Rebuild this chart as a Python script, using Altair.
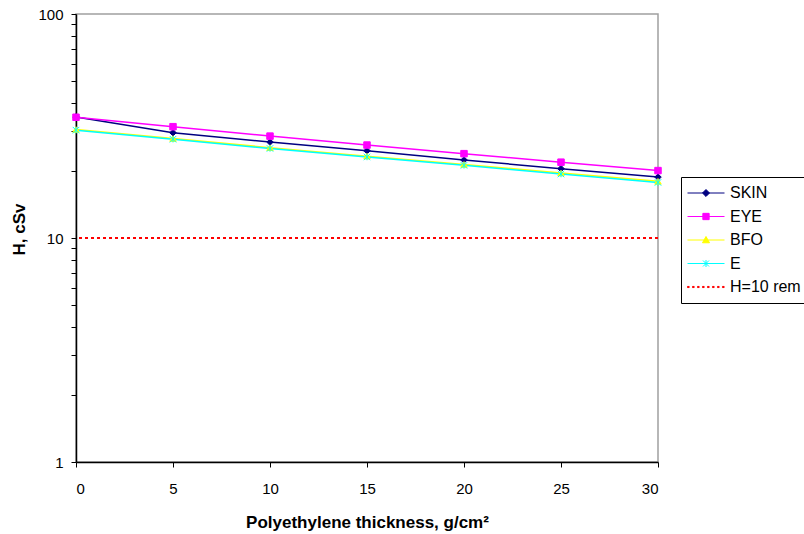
import altair as alt
import pandas as pd

# ---- data ----
thickness = [0, 5, 10, 15, 20, 25, 30]
skin = [34.7, 29.5, 26.8, 24.5, 22.3, 20.4, 18.7]
eye = [34.6, 31.4, 28.5, 26.0, 23.8, 21.8, 20.0]
bfo = [30.5, 27.8, 25.3, 23.2, 21.3, 19.5, 17.9]
e_vals = [30.3, 27.6, 25.1, 23.0, 21.1, 19.3, 17.7]
limit_value = 10

series_names = ["SKIN", "EYE", "BFO", "E"]
limit_name = "H=10 rem"
legend_names = series_names + [limit_name]
legend_colors = ["#000080", "#FF00FF", "#FFFF00", "#00FFFF", "#FF0000"]

x_ticks = [0, 5, 10, 15, 20, 25, 30]
y_ticks = [1, 2, 3, 4, 5, 6, 7, 8, 9, 10, 20, 30, 40, 50, 60, 70, 80, 90, 100]

# ---- tables ----
rows = []
for name, vals in zip(series_names, [skin, eye, bfo, e_vals]):
    for t, v in zip(thickness, vals):
        rows.append({"series": name, "t": t, "H": v})
df = pd.DataFrame(rows)
limit_df = pd.DataFrame({"series": [limit_name], "H": [limit_value]})
legend_df = pd.DataFrame({"series": legend_names, "t": [0] * 5, "H": [0.5] * 5})

# marker shapes
asterisk = "M-1,-1L1,1M-1,1L1,-1M0,-1L0,1"
point_shapes = ["diamond", "square", "triangle-up", asterisk]

dots = "".join(f"M{-1 + i * 0.27:.3f},-0.03h0.09v0.06h-0.09Z" for i in range(8))
legend_paths = [
    "M-1,0H1M0,-0.19L0.19,0L0,0.19L-0.19,0Z",
    "M-1,0H1M-0.17,-0.17H0.17V0.17H-0.17Z",
    "M-1,0H1M0,-0.19L0.19,0.15L-0.19,0.15Z",
    "M-1,0H1M-0.16,-0.16L0.16,0.16M-0.16,0.16L0.16,-0.16M0,-0.19V0.19",
    dots,
]

x_scale = alt.Scale(domain=[0, 30], nice=False, zero=False)
y_scale = alt.Scale(type="log", domain=[1, 100], nice=False)

x_enc = alt.X(
    "t:Q",
    scale=x_scale,
    axis=alt.Axis(
        values=x_ticks,
        title="Polyethylene thickness, g/cm²",
        titleFontSize=17,
        titleFontWeight="bold",
        titleY=60,
        titleBaseline="middle",
        labelPadding=14,
    ),
)
y_enc = alt.Y(
    "H:Q",
    scale=y_scale,
    axis=alt.Axis(
        values=y_ticks,
        labelExpr="(datum.value == 1 || datum.value == 10 || datum.value == 100) ? format(datum.value, 'd') : ''",
        title="H, cSv",
        titleFontSize=17,
        titleFontWeight="bold",
        titleX=-57,
        titleY=215,
        titleAngle=270,
        titleBaseline="middle",
        labelPadding=8,
    ),
)

limit_rule = alt.Chart(limit_df).mark_rule(
    color=legend_colors[4], strokeWidth=2, strokeDash=[3, 3]
).encode(y=alt.Y("H:Q", scale=y_scale))

line_layers = []
point_layers = []
for name, shp, col in zip(series_names, point_shapes, legend_colors):
    sub = df[df["series"] == name]
    line_layers.append(
        alt.Chart(sub).mark_line(strokeWidth=1.5, color=col).encode(x=x_enc, y=y_enc)
    )
    point_layers.append(
        alt.Chart(sub)
        .mark_point(filled=True, size=42, strokeWidth=1, opacity=1, shape=shp, color=col, stroke=col)
        .encode(x="t:Q", y="H:Q")
    )

leg = alt.Legend(
    title=None,
    orient="none",
    legendX=605,
    legendY=163,
    strokeColor="#000000",
    fillColor="#FFFFFF",
    padding=6,
    symbolSize=1369,
    symbolStrokeWidth=1,
    symbolOpacity=1,
    clipHeight=20,
    rowPadding=3.5,
    labelFontSize=16,
    labelOffset=5,
    labelColor="#000000",
    labelFont="Liberation Sans",
)

color_scale = alt.Scale(domain=legend_names, range=legend_colors)
legend_layer = alt.Chart(legend_df).mark_point(filled=True, clip=True, opacity=1).encode(
    x="t:Q",
    y="H:Q",
    color=alt.Color("series:N", scale=color_scale, legend=leg),
    stroke=alt.Stroke("series:N", scale=color_scale, legend=leg),
    shape=alt.Shape("series:N", scale=alt.Scale(domain=legend_names, range=legend_paths), legend=leg),
)

chart = (
    alt.layer(*line_layers, limit_rule, *point_layers, legend_layer)
    .properties(
        width=582,
        height=448,
        autosize=alt.AutoSizeParams(type="none"),
        padding={"left": 76, "top": 14, "right": 146, "bottom": 72},
        background="#FFFFFF",
    )
    .configure(font="Liberation Sans")
    .configure_view(stroke="#A0A0A0", strokeWidth=1.5)
    .configure_axis(
        grid=False,
        domainColor="#000000",
        domainWidth=1.5,
        tickColor="#000000",
        tickSize=5,
        tickWidth=1,
        labelFontSize=15,
        labelColor="#000000",
        titleColor="#000000",
        labelFont="Liberation Sans",
        titleFont="Liberation Sans",
    )
)

chart.save("out.html", embed_options={"renderer": "svg", "actions": False})
